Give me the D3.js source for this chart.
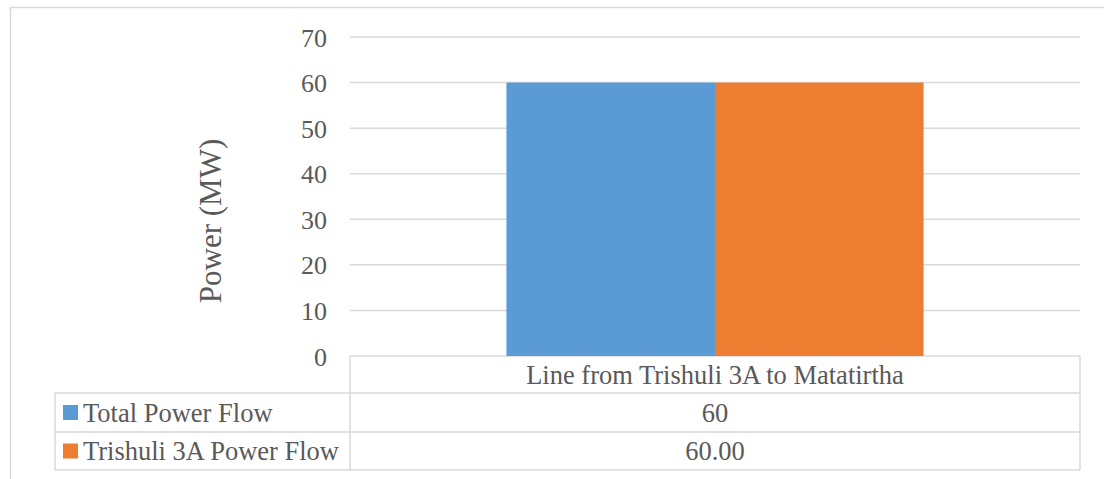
<!DOCTYPE html>
<html>
<head>
<meta charset="utf-8">
<script src="https://cdn.jsdelivr.net/npm/d3@7"></script>
<style>
  html, body { margin: 0; padding: 0; background: #ffffff; }
  svg { display: block; }
  text { font-family: "Liberation Serif", "Times New Roman", serif; fill: #595959; }
</style>
</head>
<body>
<svg id="chart" width="1104" height="479"></svg>
<script>
// Chart data
const categories = ["Line from Trishuli 3A to Matatirtha"];
const seriesNames = ["Total Power Flow", "Trishuli 3A Power Flow"];
const totalPowerFlow = [60];
const trishuliPowerFlow = [60.00];
const seriesFormats = [",.0f", ".2f"];
const seriesColors = ["#5B9BD5", "#ED7D31"];
const yTicks = [0, 10, 20, 30, 40, 50, 60, 70];
const yTitle = "Power (MW)";

const seriesValues = [totalPowerFlow, trishuliPowerFlow];

const svg = d3.select("#chart");
const gridColor = "#d9d9d9";

// Plot area
const plot = { left: 350, right: 1080, top: 37, bottom: 356 };
const rowH = [37, 39, 38];            // header row, then one row per series
const tableLeft = 55;

// Outer chart frame
svg.append("rect")
  .attr("x", 10.5).attr("y", 7.5)
  .attr("width", 1110).attr("height", 490)
  .attr("fill", "none").attr("stroke", gridColor).attr("stroke-width", 1.5);

const y = d3.scaleLinear().domain([0, 70]).range([plot.bottom, plot.top]);

const x0 = d3.scaleBand()
  .domain(categories)
  .range([plot.left, plot.right])
  .paddingInner(0)
  .paddingOuter(0.375);

const x1 = d3.scaleBand()
  .domain(d3.range(seriesNames.length))
  .range([0, x0.bandwidth()])
  .padding(0);

// Horizontal gridlines
svg.append("g")
  .selectAll("line")
  .data(yTicks)
  .join("line")
  .attr("x1", plot.left).attr("x2", plot.right)
  .attr("y1", d => y(d)).attr("y2", d => y(d))
  .attr("stroke", gridColor).attr("stroke-width", 1.5);

// Y axis labels
const yAxis = d3.axisLeft(y).tickValues(yTicks).tickSize(0).tickPadding(0);
const yg = svg.append("g")
  .attr("transform", `translate(327,0)`)
  .call(yAxis);
yg.select(".domain").remove();
yg.selectAll("text")
  .attr("font-size", 26)
  .attr("font-family", "Liberation Serif")
  .attr("fill", "#595959")
  .attr("dy", "0.35em");

// Y axis title
svg.append("text")
  .attr("transform", `translate(221,221) rotate(-90)`)
  .attr("text-anchor", "middle")
  .attr("font-size", 31)
  .text(yTitle);

// Bars
const groups = svg.append("g")
  .selectAll("g")
  .data(categories)
  .join("g")
  .attr("transform", d => `translate(${x0(d)},0)`);

groups.selectAll("rect")
  .data((d, ci) => seriesValues.map((vals, si) => ({ si, v: vals[ci] })))
  .join("rect")
  .attr("x", d => x1(d.si))
  .attr("width", x1.bandwidth())
  .attr("y", d => y(d.v))
  .attr("height", d => y(0) - y(d.v))
  .attr("fill", d => seriesColors[d.si]);

// Data table under the plot
const rowTops = [plot.bottom];
rowH.forEach((h, i) => rowTops.push(rowTops[i] + h));
const tableBottom = rowTops[rowTops.length - 1];
const tg = svg.append("g");

// horizontal rules between rows
tg.selectAll("line.h")
  .data(rowTops.slice(1))
  .join("line")
  .attr("class", "h")
  .attr("x1", tableLeft).attr("x2", plot.right)
  .attr("y1", d => d).attr("y2", d => d)
  .attr("stroke", gridColor).attr("stroke-width", 1.5);

// vertical rules
const vLines = [
  { x: plot.left, y1: plot.bottom, y2: tableBottom },
  { x: plot.right, y1: plot.bottom, y2: tableBottom },
  { x: tableLeft, y1: rowTops[1], y2: tableBottom }
];
tg.selectAll("line.v")
  .data(vLines)
  .join("line")
  .attr("class", "v")
  .attr("x1", d => d.x).attr("x2", d => d.x)
  .attr("y1", d => d.y1).attr("y2", d => d.y2)
  .attr("stroke", gridColor).attr("stroke-width", 1.5);

// header: category names
tg.selectAll("text.cat")
  .data(categories)
  .join("text")
  .attr("class", "cat")
  .attr("x", d => x0(d) + x0.bandwidth() / 2)
  .attr("y", rowTops[0] + rowH[0] / 2)
  .attr("dy", "0.35em")
  .attr("text-anchor", "middle")
  .attr("font-size", 26.5)
  .text(d => d);

// series rows: legend key, name and values
seriesNames.forEach((name, si) => {
  const cy = rowTops[si + 1] + rowH[si + 1] / 2;
  tg.append("rect")
    .attr("x", 63).attr("y", cy - 7.5)
    .attr("width", 15).attr("height", 15)
    .attr("fill", seriesColors[si]);
  tg.append("text")
    .attr("x", 83).attr("y", cy)
    .attr("dy", "0.35em")
    .attr("font-size", 26.5)
    .text(name);
  tg.selectAll(null)
    .data(categories)
    .join("text")
    .attr("x", d => x0(d) + x0.bandwidth() / 2)
    .attr("y", cy)
    .attr("dy", "0.35em")
    .attr("text-anchor", "middle")
    .attr("font-size", 26.5)
    .text((d, ci) => d3.format(seriesFormats[si])(seriesValues[si][ci]));
});
</script>
</body>
</html>
